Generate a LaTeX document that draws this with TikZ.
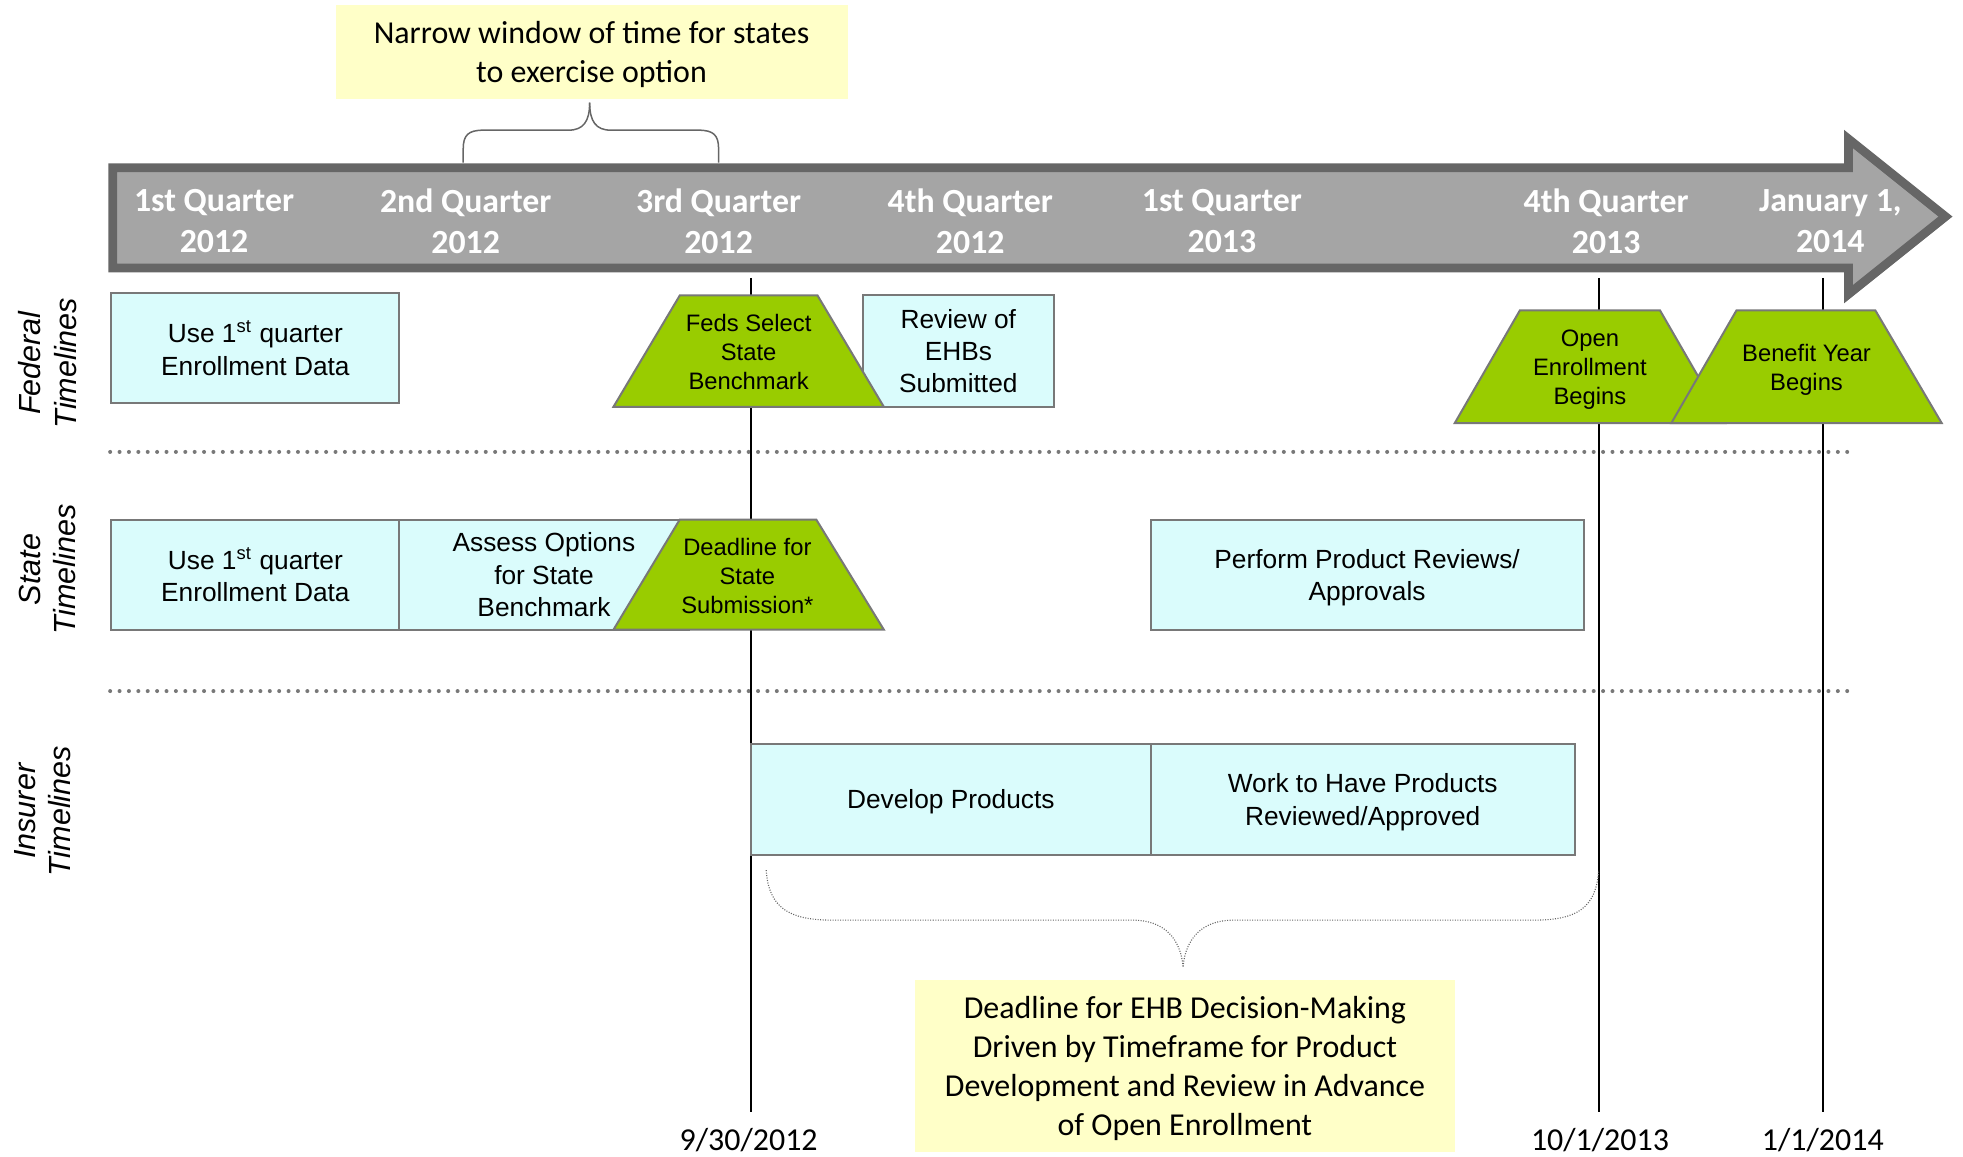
\documentclass[tikz,border=0pt]{standalone}
\usepackage{fontspec}
\setmainfont{Liberation Sans}
\newfontfamily\calfont{Carlito}
\definecolor{boxcyan}{RGB}{218,252,252}
\definecolor{trgreen}{RGB}{153,204,0}
\definecolor{ylw}{RGB}{255,255,200}
\definecolor{bordgray}{RGB}{120,120,120}
\definecolor{arrowfill}{RGB}{165,165,165}
\definecolor{arrowedge}{RGB}{102,102,102}
\tikzset{
  cbox/.style={draw=bordgray, line width=0.8pt, fill=boxcyan, inner sep=0pt, align=center,
    text depth=0pt, font=\fontsize{10.5}{12.9}\selectfont},
  trapshape/.style={draw=bordgray, line width=0.8pt, fill=trgreen},
  traptext/.style={align=center, inner sep=0pt, font=\fontsize{9.5}{11.5}\selectfont},
  ybox/.style={fill=ylw, inner sep=0pt, align=center, text depth=0pt,
    font=\calfont\fontsize{12.75}{15.5}\selectfont},
  qlabel/.style={align=center, inner sep=0pt, text=white, font=\calfont\bfseries\fontsize{13.5}{16.5}\selectfont},
  sidelabel/.style={rotate=90, align=center, inner sep=0pt, font=\itshape\fontsize{12.2}{14}\selectfont},
  datelabel/.style={inner sep=0pt, font=\calfont\fontsize{12.75}{15}\selectfont},
  sep/.style={draw=bordgray, line width=1.6pt, line cap=round, dash pattern=on 0pt off 3.75pt},
  vline/.style={draw=black, line width=0.8pt},
  bracetop/.style={draw=arrowedge, line width=0.6pt},
  bracebot/.style={draw=arrowedge, line width=0.45pt, dash pattern=on 0.4pt off 0.6pt}
}
\begin{document}
\begin{tikzpicture}[x=0.5pt,y=-0.5pt]
\useasboundingbox (0,0) rectangle (1568,924);

% timeline arrow
\draw[draw=arrowedge, fill=arrowfill, line width=3.5pt, line join=miter]
  (90,134) -- (1476.5,134) -- (1476.5,111) -- (1554,173) -- (1476.5,235) -- (1476.5,214) -- (90,214) -- cycle;
\node[qlabel] (q1) at (171,176.5) {1st Quarter\\2012};
\node[qlabel] (q2) at (372,176.5) {2nd Quarter\\2012};
\node[qlabel] (q3) at (574,176.5) {3rd Quarter\\2012};
\node[qlabel] (q4) at (775,176.5) {4th Quarter\\2012};
\node[qlabel] (q5) at (976,176.5) {1st Quarter\\2013};
\node[qlabel] (q6) at (1283,176.5) {4th Quarter\\2013};
\node[qlabel] (q7) at (1462,176.5) {January 1,\\2014};

% top callout and brace
\node[ybox, minimum width=204.5pt, minimum height=37.5pt] (narrow) at (472.5,41.5)
  {Narrow window of time for states\\to exercise option};
\coordinate (btl) at (370,130);
\coordinate (btr) at (574,130);
\coordinate (btm) at (471,82);
\draw[bracetop] (btl) -- (370,119) .. controls (370,108) and (374,104) .. (386,104) -- (454,104)
  .. controls (466,104) and (471,97) .. (btm);
\draw[bracetop] (btm) .. controls (471,97) and (476,104) .. (488,104) -- (558,104)
  .. controls (570,104) and (574,108) .. (574,119) -- (btr);

% side labels
\node[sidelabel] (fedl) at (38,290) {Federal\\Timelines};
\node[sidelabel] (statel) at (38,455) {State\\Timelines};
\node[sidelabel] (insl) at (34,648) {Insurer\\Timelines};

% separators
\coordinate (s1a) at (88,361);
\coordinate (s1b) at (1478,361);
\coordinate (s2a) at (88,552);
\coordinate (s2b) at (1478,552);
\draw[sep] (s1a) -- (s1b);
\draw[sep] (s2a) -- (s2b);

% vertical date lines
\coordinate (v1t) at (600,222);
\coordinate (v1b) at (600,888);
\coordinate (v2t) at (1277,222);
\coordinate (v2b) at (1277,888);
\coordinate (v3t) at (1456,222);
\coordinate (v3b) at (1456,888);
\draw[vline] (v1t) -- (v1b);
\draw[vline] (v2t) -- (v2b);
\draw[vline] (v3t) -- (v3b);
\node[datelabel] (d1) at (598,911) {9/30/2012};
\node[datelabel] (d2) at (1278,911) {10/1/2013};
\node[datelabel] (d3) at (1456,911) {1/1/2014};

% federal row
\node[cbox, minimum width=115pt, minimum height=44pt] (fuse) at (204,278)
  {Use 1\textsuperscript{st} quarter\\Enrollment Data};
\node[cbox, minimum width=76.5pt, minimum height=44.5pt] (review) at (765.5,280.5)
  {Review of\\EHBs\\Submitted};
\draw[trapshape] (490,325) -- (543,236) -- (653,236) -- (706,325) -- cycle;
\node[traptext] (feds) at (598,281) {Feds Select\\State\\Benchmark};
\draw[trapshape] (1162,338) -- (1214,248) -- (1326,248) -- (1378,338) -- cycle;
\node[traptext] (open) at (1270,295.5) {Open\\Enrollment\\Begins};
\draw[trapshape] (1335,338) -- (1387,248) -- (1498,248) -- (1551,338) -- cycle;
\node[traptext] (benefit) at (1443,295.5) {Benefit Year\\Begins};

% state row
\node[cbox, minimum width=115pt, minimum height=44pt] (suse) at (204,459)
  {Use 1\textsuperscript{st} quarter\\Enrollment Data};
\node[cbox, minimum width=115.5pt, minimum height=44pt] (assess) at (434.5,459)
  {Assess Options\\for State\\Benchmark};
\draw[trapshape] (490,503) -- (543,415) -- (652,415) -- (706,503) -- cycle;
\node[traptext] (deadline) at (597,460) {Deadline for\\State\\Submission*};
\node[cbox, minimum width=173pt, minimum height=44pt] (perform) at (1092,459)
  {Perform Product Reviews/\\Approvals};

% insurer row
\node[cbox, minimum width=159.5pt, minimum height=44.5pt] (develop) at (759.5,638.5)
  {Develop Products};
\node[cbox, minimum width=169.5pt, minimum height=44.5pt] (work) at (1088.5,638.5)
  {Work to Have Products\\Reviewed/Approved};

% bottom brace and callout
\coordinate (bbl) at (612,695);
\coordinate (bbr) at (1277,695);
\coordinate (bbm) at (945,772);
\draw[bracebot] (bbl) .. controls (614,725) and (630,735) .. (665,735) -- (905,735)
  .. controls (930,735) and (943,750) .. (bbm);
\draw[bracebot] (bbm) .. controls (947,750) and (960,735) .. (985,735) -- (1225,735)
  .. controls (1260,735) and (1275,725) .. (bbr);
\node[ybox, minimum width=215.5pt, minimum height=68.5pt] (deadlinebox) at (946.5,851.5)
  {Deadline for EHB Decision-Making\\Driven by Timeframe for Product\\Development and Review in Advance\\of Open Enrollment};
\end{tikzpicture}
\end{document}
